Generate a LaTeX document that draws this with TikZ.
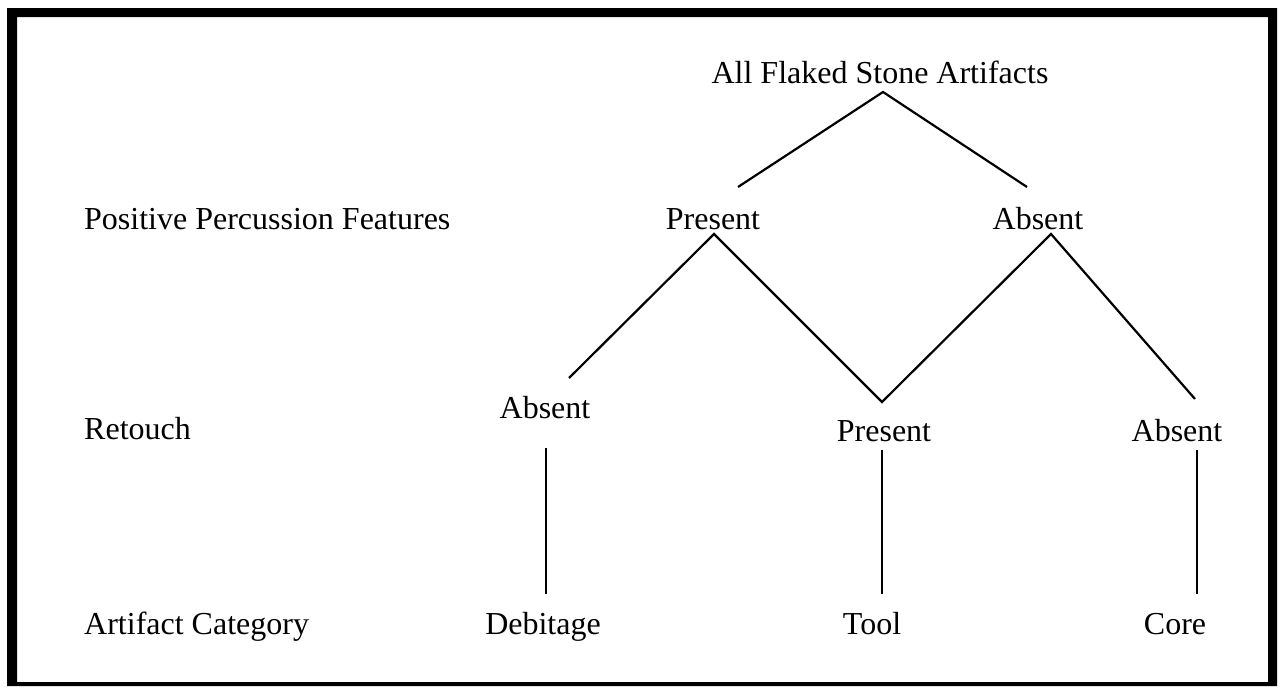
\documentclass[tikz,border=0pt]{standalone}
\usepackage{fontspec}
\setmainfont{Liberation Serif}
\begin{document}
\begin{tikzpicture}[x=1pt,y=-1pt,
  lbl/.style={anchor=base, inner sep=0pt, font=\fontsize{32}{38}\selectfont},
  rowlbl/.style={lbl, anchor=base west},
  edge/.style={line width=2.2pt}]
\useasboundingbox (0,0) rectangle (1280,688);
% heavy frame
\fill[even odd rule] (7,8) rectangle (1277,686) (17,17) rectangle (1268,682);

% row captions
\node[rowlbl] (ppf) at (84,229) {Positive Percussion Features};
\node[rowlbl] (ret) at (84,439) {Retouch};
\node[rowlbl] (cat) at (84,634) {Artifact Category};

% tree nodes
\node[lbl] (root) at (880,83) {All Flaked Stone Artifacts};
\node[lbl] (pp) at (713,229) {Present};
\node[lbl] (pa) at (1038,229) {Absent};
\node[lbl] (ra1) at (545,418) {Absent};
\node[lbl] (rp) at (884,441) {Present};
\node[lbl] (ra2) at (1177,441) {Absent};
\node[lbl] (deb) at (543,634) {Debitage};
\node[lbl] (tool) at (872,634) {Tool};
\node[lbl] (core) at (1175,634) {Core};

% branch points
\coordinate (root-s) at (883,92);
\coordinate (pp-n) at (738,187);
\coordinate (pa-n) at (1027,187);
\coordinate (pp-s) at (714,234);
\coordinate (pa-s) at (1051,234);
\coordinate (ra1-n) at (569,378);
\coordinate (rp-n) at (882,402);
\coordinate (ra2-n) at (1195,399);
\coordinate (ra1-s) at (546,448);
\coordinate (rp-s) at (882,450);
\coordinate (ra2-s) at (1197,450);
\coordinate (deb-n) at (546,594);
\coordinate (tool-n) at (882,594);
\coordinate (core-n) at (1197,594);

\draw[edge] (pp-n) -- (root-s) -- (pa-n);
\draw[edge] (ra1-n) -- (pp-s) -- (rp-n) -- (pa-s) -- (ra2-n);
\draw[edge] (ra1-s) -- (deb-n);
\draw[edge] (rp-s) -- (tool-n);
\draw[edge] (ra2-s) -- (core-n);
\end{tikzpicture}
\end{document}
